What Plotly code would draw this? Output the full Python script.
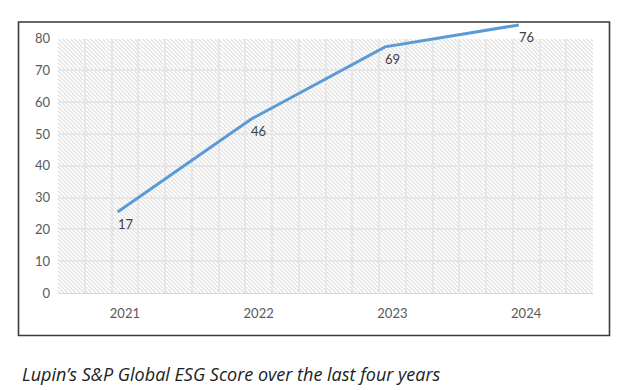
import base64
import plotly.graph_objects as go

# ---------------- data ----------------
years = ["2021", "2022", "2023", "2024"]
line_values = [25.5, 54.7, 77.4, 84.3]      # where the drawn line sits on the value axis
point_labels = ["17", "46", "69", "76"]      # data labels printed beside the points
y_ticks = [0, 10, 20, 30, 40, 50, 60, 70, 80]
caption = "Lupin\u2019s S&P Global ESG Score over the last four years"

# ---------------- layout constants (pixels) ----------------
W, H = 635, 390
ML, MR, MT, MB = 58, 42, 20, 97
PW, PH = W - ML - MR, H - MT - MB
Y_MAX = y_ticks[-1]
grid_top_px = 38.6
D = (H - MB - grid_top_px) / PH          # domain of the gridded value axis
x_idx = list(range(len(years)))
shift = 7.3 / PW * len(years)            # line drawn slightly left of the category centres

FONT = "Lato, 'Open Sans', Arial, sans-serif"
CAP_FONT = "'Open Sans', Lato, Arial, sans-serif"

def px_x(p):
    return (p - ML) / PW

def px_y(p):
    return (H - MB - p) / PH

# hatch background as an svg pattern
gw, gh = PW, round(PH * D)
svg = (
    f'<svg xmlns="http://www.w3.org/2000/svg" width="{gw}" height="{gh}" '
    f'viewBox="0 0 {gw} {gh}" preserveAspectRatio="none">'
    '<defs><pattern id="h" patternUnits="userSpaceOnUse" width="4" height="4">'
    '<path d="M-1,-1 L5,5 M-1,3 L1,5 M3,-1 L5,1" stroke="#d6d6d6" stroke-width="0.9"/>'
    '</pattern></defs>'
    f'<rect width="{gw}" height="{gh}" fill="white"/>'
    f'<rect width="{gw}" height="{gh}" fill="url(#h)"/></svg>'
)
svg_uri = "data:image/svg+xml;base64," + base64.b64encode(svg.encode()).decode()

fig = go.Figure()
fig.add_trace(go.Scatter(
    x=x_idx, y=line_values, xaxis="x2", yaxis="y2",
    mode="lines", line=dict(color="#5b9bd5", width=3),
    showlegend=False, hoverinfo="skip",
))

annotations = []
for xi, yv, lab in zip(x_idx, line_values, point_labels):
    annotations.append(dict(
        x=xi, y=yv, xref="x2", yref="y2", text=lab, showarrow=False,
        xanchor="left", yanchor="top", xshift=-2, yshift=-2,
        font=dict(family=FONT, size=13, color="#404040"),
    ))
annotations.append(dict(
    x=px_x(20), y=px_y(374), xref="paper", yref="paper", text=f"<i>{caption}</i>",
    showarrow=False, xanchor="left", yanchor="middle",
    font=dict(family=CAP_FONT, size=18, color="#222222"),
))

fig.update_layout(
    width=W, height=H,
    margin=dict(l=ML, r=MR, t=MT, b=MB, pad=0),
    paper_bgcolor="white", plot_bgcolor="rgba(0,0,0,0)",
    showlegend=False,
    font=dict(family=FONT, size=13, color="#595959"),
    xaxis=dict(
        domain=[0, 1], anchor="y", range=[-0.5, len(years) - 0.5],
        tickmode="array", tickvals=x_idx, ticktext=years,
        showgrid=False, zeroline=False, ticks="",
        showline=True, linecolor="#d9d9d9", linewidth=1,
        ticklabelstandoff=8,
        minor=dict(tickmode="linear", tick0=-0.5, dtick=0.2, showgrid=True,
                   gridcolor="#e6e6e6", gridwidth=2, ticks=""),
        fixedrange=True,
    ),
    yaxis=dict(
        domain=[0, D], anchor="x", range=[0, Y_MAX],
        tickmode="array", tickvals=y_ticks,
        showgrid=True, gridcolor="#e6e6e6", gridwidth=2,
        zeroline=False, ticks="", showline=False,
        ticklabelstandoff=7, fixedrange=True,
    ),
    xaxis2=dict(
        domain=[0, 1], anchor="y2", range=[-0.5 + shift, len(years) - 0.5 + shift],
        visible=False, fixedrange=True,
    ),
    yaxis2=dict(
        domain=[0, 1], anchor="x2", range=[0, Y_MAX / D],
        visible=False, fixedrange=True,
    ),
    images=[dict(
        source=svg_uri, xref="x", yref="y", x=-0.5, y=Y_MAX,
        sizex=len(years), sizey=Y_MAX, sizing="stretch",
        xanchor="left", yanchor="top", layer="below",
    )],
    shapes=[dict(
        type="rect", xref="paper", yref="paper",
        x0=px_x(18.5), x1=px_x(609.5), y0=px_y(335.5), y1=px_y(22),
        line=dict(color="#3a3a3a", width=1.6), fillcolor="rgba(0,0,0,0)",
        layer="below",
    )],
    annotations=annotations,
)

fig.write_html(
    "out.html",
    config={"displayModeBar": False},
    post_script="document.body.style.margin='0';document.body.style.overflow='hidden';",
)
